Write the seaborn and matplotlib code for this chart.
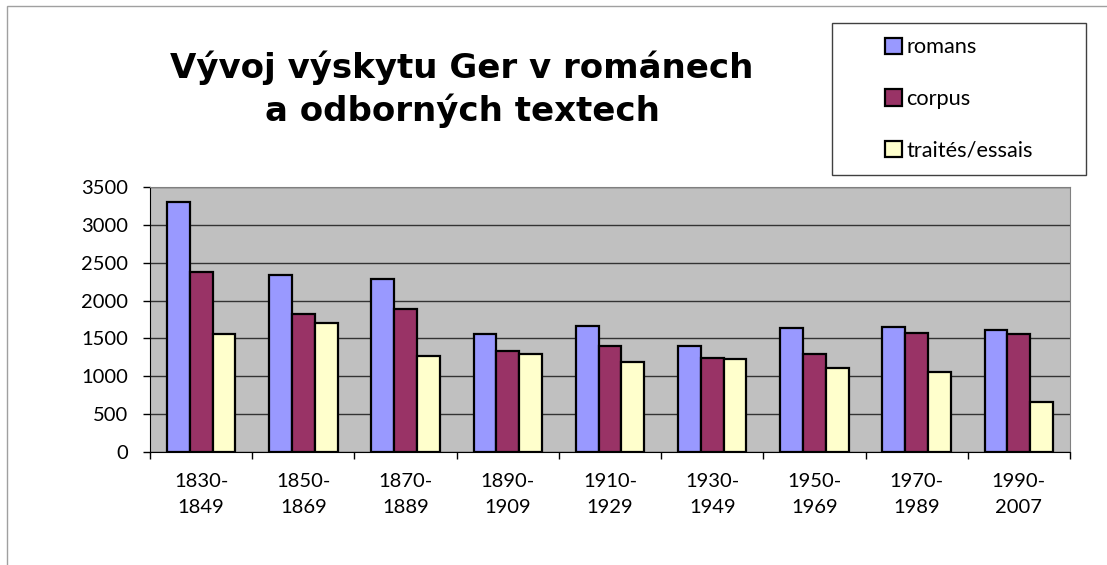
import matplotlib
matplotlib.use("Agg")
import matplotlib.pyplot as plt
import seaborn as sns
import pandas as pd
from matplotlib.patches import Rectangle

periods = ["1830-\n1849", "1850-\n1869", "1870-\n1889", "1890-\n1909", "1910-\n1929",
           "1930-\n1949", "1950-\n1969", "1970-\n1989", "1990-\n2007"]
romans = [3300, 2335, 2280, 1555, 1665, 1405, 1640, 1645, 1610]
corpus = [2375, 1820, 1885, 1335, 1400, 1235, 1295, 1570, 1555]
traites = [1555, 1700, 1270, 1290, 1190, 1225, 1105, 1060, 660]
series = ["romans", "corpus", "traités/essais"]
colors = ["#9999FF", "#993366", "#FFFFCC"]

df = pd.DataFrame({
    "period": periods * 3,
    "series": [series[0]] * 9 + [series[1]] * 9 + [series[2]] * 9,
    "value": romans + corpus + traites,
})

plt.rcParams["font.family"] = ["Lato", "DejaVu Sans"]

fig = plt.figure(figsize=(11.07, 5.65), dpi=100)
ax = fig.add_axes([150 / 1107, 1 - 452 / 565, 920 / 1107, 265 / 565])

sns.barplot(data=df, x="period", y="value", hue="series", palette=colors,
            width=0.67, gap=0, edgecolor="black", linewidth=1.6,
            saturation=1, ax=ax, legend=False, errorbar=None)

ax.set_facecolor("#C0C0C0")
ax.set_ylim(0, 3500)
ax.set_xlim(-0.5, 8.5)
ax.set_yticks(range(0, 3501, 500))
ax.grid(axis="y", color="#333333", linewidth=1)
ax.set_axisbelow(True)
ax.set_xlabel("")
ax.set_ylabel("")

# separators between categories as ticks, labels centered without ticks
ax.set_xticks([i - 0.5 for i in range(10)], minor=True)
ax.tick_params(axis="x", which="minor", length=5, width=1, color="black", direction="out")
ax.tick_params(axis="x", which="major", length=0, pad=15, labelsize=14.5)
ax.tick_params(axis="y", length=5, width=1, color="black", pad=11, labelsize=14.5)
for lbl in ax.get_xticklabels():
    lbl.set_linespacing(1.65)

ax.spines["left"].set_color("black")
ax.spines["bottom"].set_color("black")
ax.spines["top"].set_color("#808080")
ax.spines["right"].set_color("#808080")

fig.text(462 / 1107, 1 - 89 / 565, "Vývoj výskytu Ger v románech\na odborných textech",
         ha="center", va="center", fontsize=24.5, fontweight="bold",
         family="DejaVu Sans", linespacing=1.3, multialignment="center")

# outer chart frame
fig.patches.append(Rectangle((7 / 1107, -0.1), 1.2, 1 - 6 / 565 + 0.1,
                             transform=fig.transFigure, fill=False,
                             edgecolor="#A0A0A0", linewidth=1))
# legend frame
fig.patches.append(Rectangle((832 / 1107, 1 - 175 / 565), 254 / 1107, 152 / 565,
                             transform=fig.transFigure, fill=False,
                             edgecolor="#404040", linewidth=1))

handles = [Rectangle((0, 0), 1, 1, facecolor=c, edgecolor="black", linewidth=1.6)
           for c in colors]
fig.legend(handles, series, loc="center", bbox_to_anchor=(959 / 1107, 1 - 99 / 565),
           frameon=False, fontsize=15.7, handlelength=0.78, handleheight=0.78,
           handletextpad=0.18, labelspacing=1.45)

fig.savefig("out.png", dpi=100)
